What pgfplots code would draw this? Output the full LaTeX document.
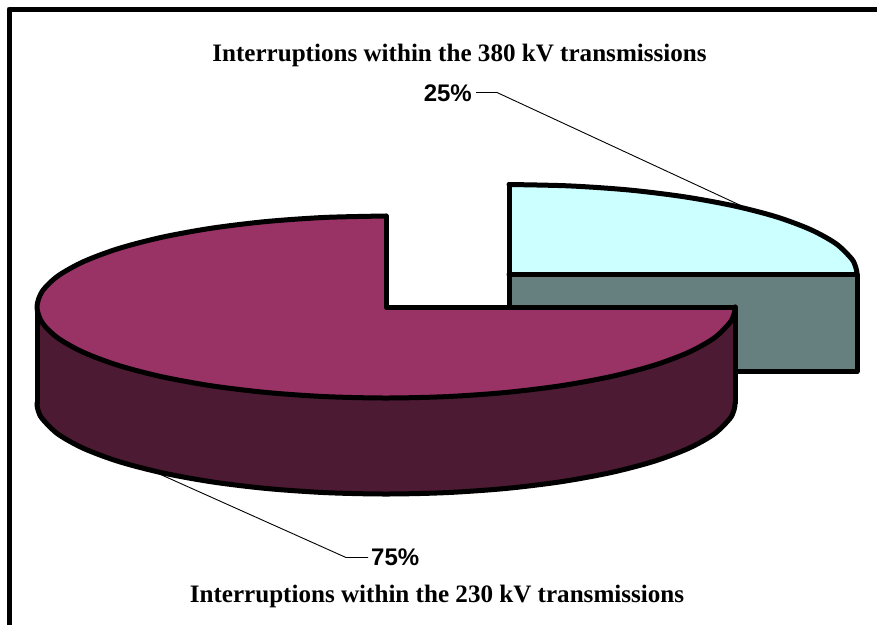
\documentclass[border=0pt]{standalone}
\usepackage{fontspec}
\setmainfont{Liberation Serif}
\newfontfamily\arialf{Liberation Sans}
\usepackage{pgfplots}
\usepackage{pgfplotstable}
\pgfplotsset{compat=1.18}
\definecolor{cyantop}{HTML}{CCFFFF}
\definecolor{cyanside}{HTML}{668080}
\definecolor{maroontop}{HTML}{993366}
\definecolor{maroonside}{HTML}{4D1A33}
% share of each slice: 25% (380 kV) and 75% (230 kV)
\pgfplotstableread{
x y
509 184.5
569.4 185.9
628 189.9
683 196.6
732.7 205.6
775.6 216.6
810.4 229.5
836 243.7
851.7 258.9
855.7 267.2
856.8 271.9
857 274.5
}\cyanarc
\pgfplotstableread{
x y
386 216
325.4 217.4
266.6 221.5
211.5 228.2
161.7 237.3
118.7 248.5
83.8 261.5
58 275.9
42.3 291.2
37 307
42.3 322.8
58 338.1
83.8 352.5
118.7 365.5
161.7 376.7
211.5 385.8
266.6 392.5
325.4 396.6
386 398
446.6 396.6
505.4 392.5
560.5 385.8
610.3 376.7
653.3 365.5
688.2 352.5
714 338.1
729.7 322.8
733.7 314.9
734.8 310.2
735 307
}\maroonarc
\pgfplotstableread{
x y
37 403
37.2 406.2
38.3 410.9
42.3 418.8
58 434.1
83.8 448.5
118.7 461.5
161.7 472.7
211.5 481.8
266.6 488.5
325.4 492.6
386 494
446.6 492.6
505.4 488.5
560.5 481.8
610.3 472.7
653.3 461.5
688.2 448.5
714 434.1
729.7 418.8
733.7 410.9
734.8 406.2
735 403
}\maroonbottom
\begin{document}
\begin{tikzpicture}[x=1pt,y=1pt]
\useasboundingbox (0,0) rectangle (877,624);
\begin{axis}[
  at={(0,0)},anchor=south west,
  scale only axis,width=877pt,height=624pt,
  xmin=0,xmax=877,ymin=0,ymax=624,y dir=reverse,
  hide axis,
  every axis plot/.append style={line join=round,line cap=round},
]
% frame
\addplot[black,line width=5pt] coordinates {(9,640) (9,9) (890,9)};
% 25% slice: side
\addplot[fill=cyanside,draw=black,line width=5pt] coordinates {(509,274.5) (857,274.5) (857,371.5) (509,371.5) (509,274.5)};
% 25% slice: top
\addplot[fill=cyantop,draw=none] coordinates {(509,274.5) (509,184.5) (569.4,185.9) (628,189.9) (683,196.6) (732.7,205.6) (775.6,216.6) (810.4,229.5) (836,243.7) (851.7,258.9) (857,274.5)};
\addplot[draw=black,line width=5pt,smooth] table {\cyanarc};
\addplot[draw=black,line width=5pt] coordinates {(509,184.5) (509,274.5) (857,274.5)};
% 75% slice: wall
\addplot[fill=maroonside,draw=none] coordinates {(37,307) (42.3,322.8) (58,338.1) (83.8,352.5) (118.7,365.5) (161.7,376.7) (211.5,385.8) (266.6,392.5) (325.4,396.6) (386,398) (446.6,396.6) (505.4,392.5) (560.5,385.8) (610.3,376.7) (653.3,365.5) (688.2,352.5) (714,338.1) (729.7,322.8) (735,307) (735,403) (729.7,418.8) (714,434.1) (688.2,448.5) (653.3,461.5) (610.3,472.7) (560.5,481.8) (505.4,488.5) (446.6,492.6) (386,494) (325.4,492.6) (266.6,488.5) (211.5,481.8) (161.7,472.7) (118.7,461.5) (83.8,448.5) (58,434.1) (42.3,418.8) (37,403)};
\addplot[draw=black,line width=5pt,smooth] table {\maroonbottom};
\addplot[draw=black,line width=5pt] coordinates {(37,307) (37,403)};
\addplot[draw=black,line width=5pt] coordinates {(735,307) (735,403)};
% 75% slice: top
\addplot[fill=maroontop,draw=none] coordinates {(386,307) (386,216) (325.4,217.4) (266.6,221.5) (211.5,228.2) (161.7,237.3) (118.7,248.5) (83.8,261.5) (58,275.9) (42.3,291.2) (37,307) (42.3,322.8) (58,338.1) (83.8,352.5) (118.7,365.5) (161.7,376.7) (211.5,385.8) (266.6,392.5) (325.4,396.6) (386,398) (446.6,396.6) (505.4,392.5) (560.5,385.8) (610.3,376.7) (653.3,365.5) (688.2,352.5) (714,338.1) (729.7,322.8) (735,307)};
\addplot[draw=black,line width=5pt,smooth] table {\maroonarc};
\addplot[draw=black,line width=5pt] coordinates {(386,216) (386,307) (735,307)};
% leaders
\addplot[black,line width=0.9pt,line cap=butt] coordinates {(476,92.5) (497,92.5) (744,207)};
\addplot[black,line width=0.9pt,line cap=butt] coordinates {(155,472) (346,557.5) (368,557.5)};
% labels
\node[font=\arialf\bfseries\fontsize{24}{24}\selectfont,anchor=east,inner sep=0pt] at (axis cs:472,93) {25\%};
\node[font=\arialf\bfseries\fontsize{24}{24}\selectfont,anchor=west,inner sep=0pt] at (axis cs:371,557.5) {75\%};
\node[font=\bfseries\fontsize{25.1}{25.1}\selectfont,inner sep=0pt] at (axis cs:459.5,55.5) {Interruptions within the 380 kV transmissions};
\node[font=\bfseries\fontsize{25.1}{25.1}\selectfont,inner sep=0pt] at (axis cs:437,596) {Interruptions within the 230 kV transmissions};
\end{axis}
\end{tikzpicture}
\end{document}
